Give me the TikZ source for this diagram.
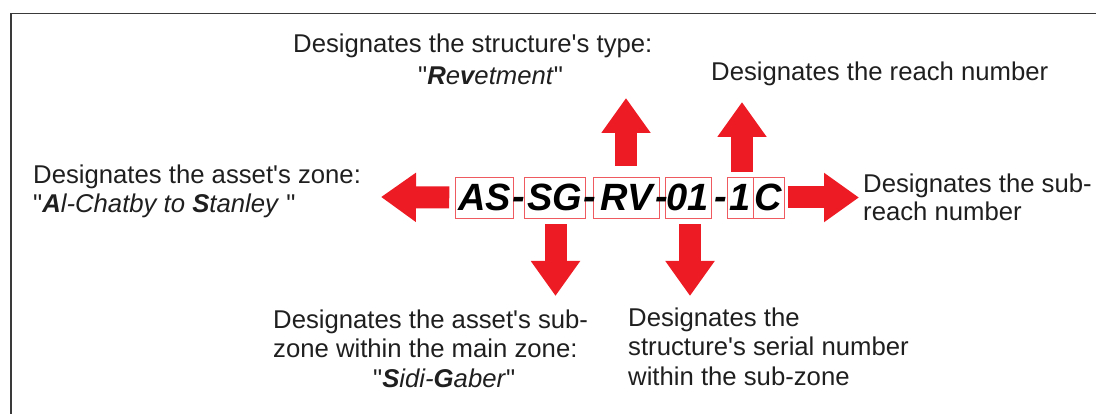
\documentclass[tikz,border=0pt]{standalone}
\usepackage{fontspec}
\newfontfamily\arial{Liberation Sans}
\usetikzlibrary{arrows.meta}
\definecolor{flagred}{HTML}{ED1C24}
\definecolor{boxred}{HTML}{EE5A60}
\definecolor{framegray}{HTML}{3A3A3A}
\tikzset{
  note/.style={anchor=base west, inner sep=0pt, align=left, text=black!88,
    font={\arial\fontsize{25.7}{29.5}\selectfont}},
  part/.style={draw=boxred, line width=0.9pt, inner sep=0pt, minimum height=41pt,
    font={\arial\bfseries\itshape\fontsize{38}{40}\selectfont}},
  joiner/.style={anchor=base, inner sep=0pt,
    font={\arial\bfseries\itshape\fontsize{38}{40}\selectfont}},
  blockarrow/.style={draw=flagred, line width=22pt,
    -{Triangle[length=35pt,width=47pt]}},
}
\begin{document}
\begin{tikzpicture}[x=1pt,y=-1pt]
\useasboundingbox (0,0) rectangle (1096,414);

% frame along the top and left edges
\draw[framegray, line width=1.5pt] (11,414) -- (11,13.5) -- (1096,13.5);

% the code, one box per part
\node[part, minimum width=57.6pt] (AS) at (484.5,197.5) {AS};
\node[part, minimum width=61pt]   (SG) at (554.5,197.5) {SG};
\node[part, minimum width=65.6pt] (RV) at (626.5,197.5) {RV};
\node[part, minimum width=46pt]   (N01) at (688,197.5) {01};
\node[part, minimum width=25.6pt] (N1) at (740.5,197.5) {1};
\node[part, minimum width=30.7pt] (C) at (768.65,197.5) {C};

% separators
\node[joiner] (h1) at (518.5,210) {-};
\node[joiner] (h2) at (589.5,210) {-};
\node[joiner] (h3) at (662,210) {-};
\node[joiner] (h4) at (721,210) {-};

% explanations (each anchored at the baseline of its last line)
\node[note, font={\arial\fontsize{25.7}{32}\selectfont}] (type) at (293,85)
  {Designates the structure's type:\\
   \hspace*{125pt}"\textit{\textbf{R}e\textbf{v}etment}"};
\node[note, font={\arial\fontsize{25.7}{29}\selectfont}] (zone) at (33,213)
  {Designates the asset's zone:\\
   "\textit{\textbf{A}l-Chatby to \textbf{S}tanley} "};
\node[note] (reach) at (711,81) {Designates the reach number};
\node[note, font={\arial\fontsize{25.7}{27.5}\selectfont}] (subreach) at (863,220.5)
  {Designates the sub-\\reach number};
\node[note] (subzone) at (273,387)
  {Designates the asset's sub-\\
   zone within the main zone:\\
   \hspace*{100pt}"\textit{\textbf{S}idi-\textbf{G}aber}"};
\node[note] (serial) at (628,385)
  {Designates the\\structure's serial number\\within the sub-zone};

% arrow tips
\coordinate (tipZone) at (381,197);
\coordinate (tipSub) at (859,197.5);
\coordinate (tipType) at (626,98);
\coordinate (tipReach) at (742,102);
\coordinate (tipSubzone) at (555.5,296);
\coordinate (tipSerial) at (690,296);

% block arrows
\draw[blockarrow] ([xshift=-6pt]AS.west) -- (tipZone);
\draw[blockarrow] ([xshift=4pt]C.east) -- (tipSub);
\draw[blockarrow] ([yshift=11pt]RV.north -| tipType) -- (tipType);
\draw[blockarrow] ([yshift=5pt]N1.north -| tipReach) -- (tipReach);
\draw[blockarrow] ([yshift=-6pt]SG.south -| tipSubzone) -- (tipSubzone);
\draw[blockarrow] ([yshift=-6pt]N01.south -| tipSerial) -- (tipSerial);
\end{tikzpicture}
\end{document}
